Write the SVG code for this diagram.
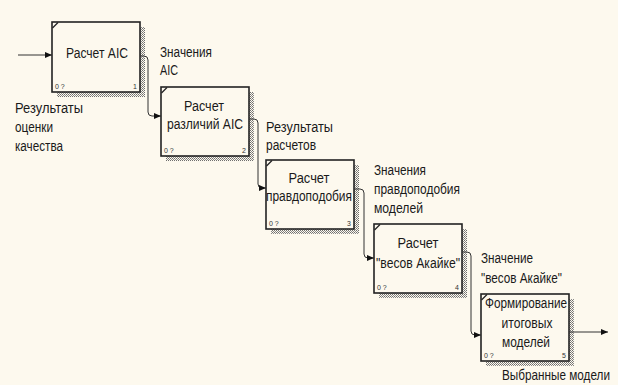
<svg xmlns="http://www.w3.org/2000/svg" width="618" height="385" viewBox="0 0 618 385">
  <style>
    .box { fill: #fdf9ee; stroke: #222; stroke-width: 1.6; }
    .shadow { fill: url(#hatch); }
    .lbl { font-family: "Liberation Sans", Arial, sans-serif; font-size: 14px; fill: #1a1a1a; }
    .mid { text-anchor: middle; }
    .small { font-family: "Liberation Sans", Arial, sans-serif; font-size: 7px; fill: #333; }
    .end { text-anchor: end; }
    .tick { stroke: #222; stroke-width: 1.2; }
    .conn { fill: none; stroke: #333; stroke-width: 1; }
  </style>
  <defs>
    <pattern id="hatch" width="2" height="2" patternUnits="userSpaceOnUse">
      <rect x="0" y="0" width="1" height="1" fill="#6e6e6e"/>
      <rect x="1" y="1" width="1" height="1" fill="#8a8a8a"/>
    </pattern>
    <marker id="arr" markerUnits="userSpaceOnUse" markerWidth="8" markerHeight="7" refX="7" refY="3.5" orient="auto">
      <path d="M0,0.5 L7,3.5 L0,6.5 z" fill="#111"/>
    </marker>
  </defs>
  <rect x="0" y="0" width="618" height="385" fill="#fdf9ee"/>

  <g id="node1">
    <rect class="shadow" x="57" y="27" width="88" height="70"/>
    <rect class="box" x="52" y="22" width="88" height="70"/>
    <line class="tick" x1="52.5" y1="28" x2="58" y2="22.5"/>
    <text class="lbl mid" x="97" y="58" textLength="62" lengthAdjust="spacingAndGlyphs">Расчет AIC</text>
    <text class="small" x="55" y="89">0 ?</text>
    <text class="small end" x="137" y="89">1</text>
  </g>

  <g id="node2">
    <rect class="shadow" x="166" y="92" width="88" height="69"/>
    <rect class="box" x="161" y="87" width="88" height="69"/>
    <line class="tick" x1="161.5" y1="93" x2="167" y2="87.5"/>
    <text class="lbl mid" x="204" y="111" textLength="40" lengthAdjust="spacingAndGlyphs">Расчет</text>
    <text class="lbl mid" x="205" y="129" textLength="76" lengthAdjust="spacingAndGlyphs">различий AIC</text>
    <text class="small" x="164" y="153">0 ?</text>
    <text class="small end" x="246" y="153">2</text>
  </g>

  <g id="node3">
    <rect class="shadow" x="271" y="165" width="88" height="69"/>
    <rect class="box" x="266" y="160" width="88" height="69"/>
    <line class="tick" x1="266.5" y1="166" x2="272" y2="160.5"/>
    <text class="lbl mid" x="309" y="183" textLength="41" lengthAdjust="spacingAndGlyphs">Расчет</text>
    <text class="lbl mid" x="309" y="201" textLength="86" lengthAdjust="spacingAndGlyphs">правдоподобия</text>
    <text class="small" x="269" y="226">0 ?</text>
    <text class="small end" x="351" y="226">3</text>
  </g>

  <g id="node4">
    <rect class="shadow" x="379" y="229" width="88" height="69"/>
    <rect class="box" x="374" y="224" width="88" height="69"/>
    <line class="tick" x1="374.5" y1="230" x2="380" y2="224.5"/>
    <text class="lbl mid" x="418" y="248" textLength="41" lengthAdjust="spacingAndGlyphs">Расчет</text>
    <text class="lbl mid" x="418" y="268" textLength="84" lengthAdjust="spacingAndGlyphs">"весов Акайке"</text>
    <text class="small" x="377" y="290">0 ?</text>
    <text class="small end" x="459" y="290">4</text>
  </g>

  <g id="node5">
    <rect class="shadow" x="486" y="299" width="88" height="67"/>
    <rect class="box" x="481" y="294" width="88" height="67"/>
    <line class="tick" x1="481.5" y1="300" x2="487" y2="294.5"/>
    <text class="lbl mid" x="526" y="308" textLength="82" lengthAdjust="spacingAndGlyphs">Формирование</text>
    <text class="lbl mid" x="527" y="328" textLength="51" lengthAdjust="spacingAndGlyphs">итоговых</text>
    <text class="lbl mid" x="526" y="347" textLength="48" lengthAdjust="spacingAndGlyphs">моделей</text>
    <text class="small" x="484" y="358">0 ?</text>
    <text class="small end" x="566" y="358">5</text>
  </g>

  <g id="connectors">
    <path class="conn" d="M18,55 H52" marker-end="url(#arr)"/>
    <path class="conn" d="M140,56 H144 Q148,56 148,60 V112 Q148,116 152,116 H161" marker-end="url(#arr)"/>
    <path class="conn" d="M249,119 H254 Q258,119 258,123 V184 Q258,188 262,188 H266" marker-end="url(#arr)"/>
    <path class="conn" d="M354,189 H360 Q364,189 364,193 V254 Q364,258 368,258 H374" marker-end="url(#arr)"/>
    <path class="conn" d="M462,252 H467 Q471,252 471,256 V331 Q471,335 475,335 H481" marker-end="url(#arr)"/>
    <path class="conn" d="M569,332 H608" marker-end="url(#arr)"/>
  </g>

  <g id="labels">
    <text class="lbl" x="15" y="113" textLength="68" lengthAdjust="spacingAndGlyphs">Результаты</text>
    <text class="lbl" x="15" y="132" textLength="38" lengthAdjust="spacingAndGlyphs">оценки</text>
    <text class="lbl" x="15" y="151" textLength="48" lengthAdjust="spacingAndGlyphs">качества</text>

    <text class="lbl" x="160" y="57" textLength="52" lengthAdjust="spacingAndGlyphs">Значения</text>
    <text class="lbl" x="160" y="75" textLength="18" lengthAdjust="spacingAndGlyphs">AIC</text>

    <text class="lbl" x="266" y="132" textLength="67" lengthAdjust="spacingAndGlyphs">Результаты</text>
    <text class="lbl" x="266" y="150" textLength="50" lengthAdjust="spacingAndGlyphs">расчетов</text>

    <text class="lbl" x="374" y="175" textLength="52" lengthAdjust="spacingAndGlyphs">Значения</text>
    <text class="lbl" x="374" y="194" textLength="86" lengthAdjust="spacingAndGlyphs">правдоподобия</text>
    <text class="lbl" x="374" y="213" textLength="49" lengthAdjust="spacingAndGlyphs">моделей</text>

    <text class="lbl" x="481" y="263" textLength="52" lengthAdjust="spacingAndGlyphs">Значение</text>
    <text class="lbl" x="481" y="283" textLength="81" lengthAdjust="spacingAndGlyphs">"весов Акайке"</text>

    <text class="lbl" transform="translate(502,379.5) scale(0.845,1)" x="0" y="0" textLength="127.8" lengthAdjust="spacingAndGlyphs">Выбранные модели</text>
  </g>
</svg>
